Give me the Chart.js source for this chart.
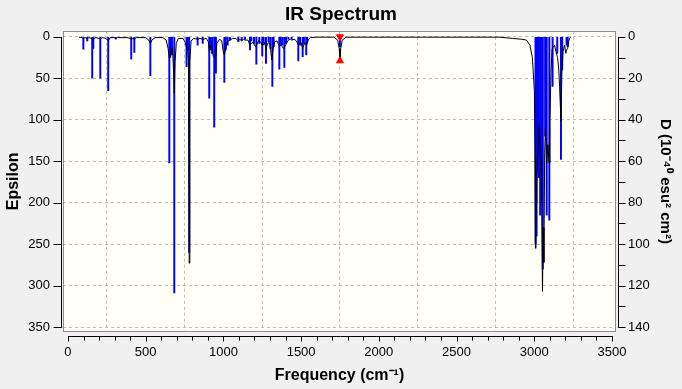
<!DOCTYPE html>
<html>
<head>
<meta charset="utf-8">
<script src="https://cdn.jsdelivr.net/npm/chart.js@4"></script>
<style>
  html, body { margin: 0; padding: 0; background: #f0f0f0; }
  #wrap { width: 682px; height: 389px; }
</style>
</head>
<body>
<div id="wrap"><canvas id="ir"></canvas></div>
<script>
// sticks : frequency (cm-1) and dipole strength D (10^-40 esu^2 cm^2)
const stickFreq = [99, 124, 156, 163, 208, 259, 307, 407, 427, 530,
  652, 658, 669, 684, 763, 772, 780, 834, 867, 909,
  918, 927, 941, 952, 1006, 1015, 1027, 1042, 1096, 1118,
  1139, 1171, 1180, 1197, 1212, 1231, 1250, 1259, 1274, 1291,
  1302, 1315, 1323, 1360, 1369, 1379, 1392, 1403, 1418, 1439,
  1482, 1493, 1510, 1518, 1533, 1540, 1750, 3008, 3015, 3022,
  3030, 3038, 3048, 3055, 3070, 3080, 3097, 3118, 3148, 3172,
  3180, 3208, 3215];
const stickD = [6, 2, 20, 5.6, 20, 26, 1.2, 10.8, 7.6, 18.8,
  60.8, 10, 8.8, 123.6, 14.4, 6.4, 104, 4, 3.2, 29.6,
  6.4, 8, 43.6, 17.6, 22, 6.4, 4, 1.6, 2.4, 1.6,
  1.2, 6.4, 2, 3.2, 13.2, 3.2, 9.2, 3.2, 12.8, 2.4,
  5.6, 24, 4.8, 15.6, 4, 4, 14.8, 3.2, 1.2, 1.2,
  11.6, 4, 9.6, 3.2, 8.8, 2.4, 4.8, 100, 96, 60,
  68, 86, 76, 112, 48, 86, 88.4, 24, 8, 59.2,
  16, 4, 4.8];

// broadened spectrum (epsilon)
const specFreq = [71, 90, 99, 108, 124, 135, 150, 158, 166, 180,
  200, 208, 220, 245, 259, 272, 300, 307, 320, 380,
  400, 410, 418, 427, 440, 500, 520, 530, 540, 560,
  610, 632, 644, 652, 660, 667, 673, 679, 684, 689,
  697, 710, 740, 755, 763, 770, 776, 780, 784, 792,
  810, 834, 850, 867, 890, 903, 909, 918, 927, 935,
  941, 950, 958, 975, 990, 999, 1006, 1015, 1025, 1042,
  1060, 1080, 1096, 1106, 1118, 1130, 1139, 1158, 1171, 1180,
  1190, 1200, 1207, 1214, 1225, 1238, 1250, 1257, 1265, 1274,
  1285, 1295, 1302, 1311, 1320, 1330, 1345, 1360, 1369, 1379,
  1385, 1392, 1403, 1418, 1430, 1439, 1455, 1470, 1482, 1493,
  1500, 1510, 1518, 1527, 1536, 1545, 1560, 1600, 1660, 1710,
  1735, 1745, 1750, 1755, 1765, 1790, 2000, 2300, 2600, 2780,
  2860, 2920, 2950, 2972, 2988, 3001, 3005, 3009, 3013, 3017,
  3022, 3027, 3033, 3038, 3044, 3048, 3053, 3058, 3062, 3067,
  3072, 3080, 3088, 3095, 3101, 3108, 3115, 3122, 3130, 3140,
  3150, 3158, 3163, 3172, 3178, 3185, 3195, 3203, 3208, 3215,
  3222, 3230, 3236];
const specEps = [0.5, 1, 2.5, 1, 2, 1, 2, 3, 2, 1,
  2, 3, 1, 2, 5, 1, 1, 2, 1, 1,
  2, 3, 2, 3, 1, 1, 4, 8, 4, 1,
  1, 4, 14, 26, 22, 14, 14, 40, 68, 30,
  8, 2, 2, 7, 13, 16, 30, 273, 30, 5,
  2, 3, 2, 3, 2, 6, 17, 10, 14, 24,
  25, 24, 8, 3, 5, 18, 22, 14, 6, 4,
  2, 2, 5, 3, 5, 3, 4, 4, 10, 8,
  7, 10, 12, 10, 5, 6, 10, 10, 7, 15,
  8, 7, 12, 28, 15, 6, 5, 12, 10, 12,
  14, 13, 9, 4, 3, 4, 3, 5, 10, 8,
  7, 14, 10, 7, 10, 4, 1, 0.5, 0.5, 0.5,
  4, 14, 29, 14, 4, 0.5, 0.5, 0.5, 0.5, 0.5,
  2, 3, 4, 10, 25, 66, 146, 255, 200, 175,
  150, 120, 106, 140, 150, 200, 307, 230, 272, 140,
  110, 152, 130, 152, 100, 40, 15, 12, 10, 18,
  25, 40, 60, 102, 40, 18, 10, 20, 16, 14,
  5, 1, 0];

// marked peak
const markFreq = 1750;
const markEps = 29;

// axis ticks
const xTicks = [0, 500, 1000, 1500, 2000, 2500, 3000, 3500];
const epsTicks = [0, 50, 100, 150, 200, 250, 300, 350];
const dTicks = [0, 20, 40, 60, 80, 100, 120, 140];
const xMinorStep = 100;
const dMinorStep = 10;

const FONT = "'Liberation Sans', Arial, sans-serif";

// fond, cadre et axes décalés
const frame = {
  id: 'frame',
  beforeDraw(chart) {
    const { ctx, chartArea: a } = chart;
    ctx.save();
    ctx.fillStyle = '#f0f0f0';
    ctx.fillRect(0, 0, chart.width, chart.height);
    ctx.fillStyle = '#fffff5';
    ctx.fillRect(a.left, a.top, a.right - a.left, a.bottom - a.top);
    ctx.restore();
  },
  afterDraw(chart) {
    const { ctx, chartArea: a, scales } = chart;
    const x = scales.x, yE = scales.yE, yD = scales.yD;
    ctx.save();
    ctx.strokeStyle = '#8c8c8c';
    ctx.lineWidth = 1;
    ctx.strokeRect(Math.round(a.left) + 0.5, Math.round(a.top) + 0.5,
      Math.round(a.right - a.left) - 1, Math.round(a.bottom - a.top) - 1);

    ctx.strokeStyle = '#000';
    ctx.beginPath();
    // axe X
    const xy = Math.round(a.bottom) + 4.5;
    const x0 = x.getPixelForValue(xTicks[0]);
    const x1 = x.getPixelForValue(xTicks[xTicks.length - 1]);
    ctx.moveTo(Math.round(x0), xy);
    ctx.lineTo(Math.round(x1) + 1, xy);
    for (let v = xTicks[0]; v <= xTicks[xTicks.length - 1]; v += xMinorStep) {
      const px = Math.round(x.getPixelForValue(v)) + 0.5;
      ctx.moveTo(px, xy);
      ctx.lineTo(px, xy + (xTicks.includes(v) ? 5 : 4));
    }
    // axe gauche
    const lx = Math.round(a.left) - 1.5;
    ctx.moveTo(lx, Math.round(yE.getPixelForValue(epsTicks[0])));
    ctx.lineTo(lx, Math.round(yE.getPixelForValue(epsTicks[epsTicks.length - 1])) + 1);
    epsTicks.forEach(v => {
      const py = Math.round(yE.getPixelForValue(v)) + 0.5;
      ctx.moveTo(lx, py);
      ctx.lineTo(lx - 8, py);
    });
    // axe droit
    const rx = Math.round(a.right) + 2.5;
    ctx.moveTo(rx, Math.round(yD.getPixelForValue(dTicks[0])));
    ctx.lineTo(rx, Math.round(yD.getPixelForValue(dTicks[dTicks.length - 1])) + 1);
    for (let v = dTicks[0]; v <= dTicks[dTicks.length - 1]; v += dMinorStep) {
      const py = Math.round(yD.getPixelForValue(v)) + 0.5;
      ctx.moveTo(rx, py);
      ctx.lineTo(rx + 7, py);
    }
    ctx.stroke();
    ctx.restore();
  }
};

const gridColor = '#bdbdbd';

new Chart(document.getElementById('ir'), {
  type: 'line',
  data: {
    datasets: [
      {
        type: 'scatter',
        label: 'marker',
        data: [{ x: markFreq, y: 0 }, { x: markFreq, y: markEps }],
        yAxisID: 'yE',
        pointStyle: 'triangle',
        pointRadius: 4,
        pointRotation: c => (c.dataIndex === 0 ? 180 : 0),
        pointBackgroundColor: '#ff0000',
        pointBorderColor: '#ff0000',
        pointBorderWidth: 1,
        order: 0
      },
      {
        type: 'line',
        label: 'spectrum',
        data: specFreq.map((f, i) => ({ x: f, y: specEps[i] })),
        yAxisID: 'yE',
        borderColor: '#000000',
        borderWidth: 1,
        pointRadius: 0,
        tension: 0,
        fill: false,
        order: 1
      },
      {
        type: 'bar',
        label: 'sticks',
        data: stickFreq.map((f, i) => ({ x: f, y: stickD[i] })),
        yAxisID: 'yD',
        backgroundColor: '#0000ff',
        borderWidth: 0,
        barThickness: 1.3,
        order: 2
      }
    ]
  },
  options: {
    responsive: true,
    maintainAspectRatio: false,
    animation: false,
    layout: { padding: 0 },
    plugins: {
      legend: { display: false },
      tooltip: { enabled: false },
      title: {
        display: true,
        text: 'IR Spectrum',
        color: '#000',
        font: { family: FONT, size: 19, weight: 'bold', lineHeight: 1.2 },
        padding: { top: 3, bottom: 5 }
      }
    },
    scales: {
      x: {
        type: 'linear',
        min: -32,
        max: 3526,
        offset: false,
        afterBuildTicks: s => { s.ticks = xTicks.map(v => ({ value: v })); },
        afterFit: s => { s.height = 57; },
        grid: { color: gridColor, lineWidth: 1, drawTicks: false },
        border: { display: false, dash: [3, 3] },
        ticks: {
          color: '#000', padding: 13, autoSkip: false, maxRotation: 0,
          font: { family: FONT, size: 13 },
          callback: v => String(v)
        },
        title: {
          display: true,
          text: 'Frequency (cm⁻¹)',
          color: '#000',
          font: { family: FONT, size: 16, weight: 'bold', lineHeight: 1.2 },
          padding: { top: 0, bottom: 4 }
        }
      },
      yE: {
        type: 'linear',
        position: 'left',
        reverse: true,
        min: -7.2,
        max: 356,
        afterBuildTicks: s => { s.ticks = epsTicks.map(v => ({ value: v })); },
        afterFit: s => { s.width = 63; },
        grid: { color: gridColor, lineWidth: 1, drawTicks: false },
        border: { display: false, dash: [3, 3] },
        ticks: {
          color: '#000', padding: 13, autoSkip: false,
          font: { family: FONT, size: 13 },
          callback: v => String(v)
        },
        title: {
          display: true,
          text: 'Epsilon',
          color: '#000',
          font: { family: FONT, size: 16, weight: 'bold', lineHeight: 1.2 },
          padding: { top: 4, bottom: 0 }
        }
      },
      yD: {
        type: 'linear',
        position: 'right',
        reverse: true,
        min: -2.88,
        max: 142.4,
        afterBuildTicks: s => { s.ticks = dTicks.map(v => ({ value: v })); },
        afterFit: s => { s.width = 66; },
        grid: { drawOnChartArea: false, drawTicks: false },
        border: { display: false },
        ticks: {
          color: '#000', padding: 12, autoSkip: false,
          font: { family: FONT, size: 13 },
          callback: v => String(v)
        },
        title: {
          display: true,
          text: 'D (10⁻⁴⁰ esu² cm²)',
          color: '#000',
          font: { family: FONT, size: 15, weight: 'bold', lineHeight: 1.2 },
          padding: { top: 8, bottom: 0 }
        }
      }
    }
  },
  plugins: [frame]
});
</script>
</body>
</html>
